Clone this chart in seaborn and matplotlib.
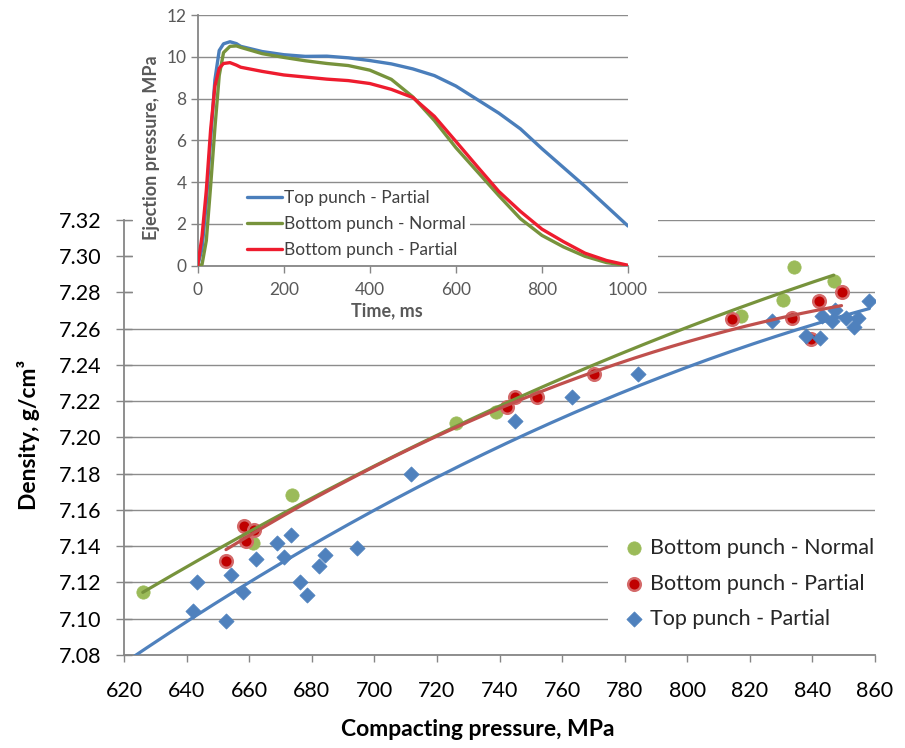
import numpy as np
import pandas as pd
import matplotlib
matplotlib.use("Agg")
import matplotlib.pyplot as plt
import seaborn as sns

# ---- Green density vs compacting pressure ----
bottom_normal_p = [626.0, 661.1, 673.6, 726.1, 738.9, 817.3, 830.6, 834.2, 846.8]
bottom_normal_d = [7.115, 7.142, 7.168, 7.208, 7.214, 7.267, 7.276, 7.294, 7.286]

bottom_partial_p = [652.6, 658.5, 658.9, 661.6, 742.4, 744.8, 752.0, 770.3,
                    814.3, 833.5, 839.6, 842.0, 849.3]
bottom_partial_d = [7.132, 7.151, 7.143, 7.149, 7.217, 7.222, 7.222, 7.235,
                    7.265, 7.266, 7.254, 7.275, 7.280]

top_partial_p = [642.2, 643.4, 652.6, 654.1, 658.1, 662.1, 669.0, 671.1, 673.4,
                 676.3, 678.4, 682.3, 684.3, 694.4, 711.8, 745.0, 763.3, 784.3,
                 827.1, 838.1, 842.3, 843.1, 846.3, 847.1, 850.7, 853.4, 854.6, 858.2]
top_partial_d = [7.104, 7.120, 7.099, 7.124, 7.115, 7.133, 7.142, 7.134, 7.146,
                 7.120, 7.113, 7.129, 7.135, 7.139, 7.180, 7.209, 7.222, 7.235,
                 7.264, 7.256, 7.255, 7.267, 7.264, 7.270, 7.266, 7.261, 7.266, 7.275]

series_names = ["Bottom punch - Normal", "Bottom punch - Partial", "Top punch - Partial"]

# ---- Ejection pressure curves ----
time_ms = [0, 10, 20, 30, 40, 50, 60, 75, 90, 100, 150, 200, 250, 300, 350, 400,
           450, 500, 550, 600, 650, 700, 750, 800, 850, 900, 950, 1000]
eject_top_partial = [0, 0.8, 3.0, 6.0, 8.9, 10.3, 10.62, 10.72, 10.63, 10.5, 10.25,
                     10.1, 10.02, 10.03, 9.95, 9.82, 9.66, 9.42, 9.1, 8.6, 7.95, 7.3,
                     6.55, 5.6, 4.7, 3.8, 2.85, 1.9]
eject_bottom_normal = [0, 0.05, 1.2, 3.8, 6.6, 9.1, 10.2, 10.5, 10.52, 10.45, 10.15,
                       9.97, 9.81, 9.68, 9.58, 9.36, 8.92, 8.08, 6.95, 5.65, 4.5, 3.35,
                       2.25, 1.45, 0.9, 0.45, 0.15, 0.0]
eject_bottom_partial = [0, 1.4, 3.6, 6.5, 8.6, 9.45, 9.68, 9.72, 9.6, 9.5, 9.3, 9.13,
                        9.03, 8.93, 8.86, 8.72, 8.44, 8.05, 7.15, 5.95, 4.74, 3.55,
                        2.6, 1.75, 1.15, 0.6, 0.25, 0.02]
eject_names = ["Top punch - Partial", "Bottom punch - Normal", "Bottom punch - Partial"]

sns.set_style("white")
plt.rcParams["font.family"] = ["Lato", "DejaVu Sans"]

W, H = 905, 748
fig = plt.figure(figsize=(W / 100, H / 100), dpi=100)


def fx(px):
    return px / W


def fy(py):
    return 1 - py / H


GRID = "#8c8c8c"
SPINE = "#868686"

# ---------------- main chart ----------------
ax = fig.add_axes([fx(124), fy(655), fx(875) - fx(124), fy(219.7) - fy(655)])
ax.set_zorder(1)

df_n = pd.DataFrame({"p": bottom_normal_p, "d": bottom_normal_d})
df_bp = pd.DataFrame({"p": bottom_partial_p, "d": bottom_partial_d})
df_tp = pd.DataFrame({"p": top_partial_p, "d": top_partial_d})

sns.scatterplot(data=df_n, x="p", y="d", ax=ax, marker="o", s=92,
                color="#9BBB59", edgecolor="#9BBB59", linewidth=0.5, zorder=3)
sns.scatterplot(data=df_bp, x="p", y="d", ax=ax, marker="o", s=82,
                color="#C00000", edgecolor="#D46A6A", linewidth=1.8, zorder=4)
sns.scatterplot(data=df_tp, x="p", y="d", ax=ax, marker="D", s=60,
                color="#4F81BD", edgecolor="#4F81BD", linewidth=0.5, zorder=5)
colls = ax.collections[:3]

# second-order polynomial trend lines
trend_specs = [
    (df_n, "#77933C", False),
    (df_bp, "#C0504D", False),
    (df_tp, "#4F81BD", True),
]
for df, col, back in trend_specs:
    coef = np.polyfit(df["p"], df["d"], 2)
    x0 = 620 if back else df["p"].min()
    xs = np.linspace(x0, df["p"].max(), 200)
    tdf = pd.DataFrame({"p": xs, "d": np.polyval(coef, xs)})
    sns.lineplot(data=tdf, x="p", y="d", ax=ax, color=col, linewidth=2.3,
                 zorder=6, sort=False)

ax.set_xlim(620, 860)
ax.set_ylim(7.08, 7.32)
ax.set_xticks(np.arange(620, 861, 20))
ax.set_yticks(np.arange(7.08, 7.321, 0.02))
ax.set_yticklabels([f"{v:.2f}" for v in np.arange(7.08, 7.321, 0.02)])
ax.grid(axis="y", color=GRID, linewidth=1.0)
ax.grid(axis="x", visible=False)
ax.set_axisbelow(True)
for s in ["top", "right"]:
    ax.spines[s].set_visible(False)
for s in ["left", "bottom"]:
    ax.spines[s].set_color(SPINE)
    ax.spines[s].set_linewidth(1.3)
ax.tick_params(axis="y", direction="inout", length=11, width=1.0, color=SPINE,
               labelsize=15.5, pad=11, labelcolor="black", left=True)
ax.tick_params(axis="x", direction="out", length=5, width=1.0, color=SPINE,
               labelsize=15.5, pad=14, labelcolor="black", bottom=True)
ax.set_xlabel("Compacting pressure, MPa", fontsize=16.5, fontweight="bold", color="black")
ax.set_ylabel("Density, g/cm³", fontsize=16.5, fontweight="bold", color="black")
ax.xaxis.set_label_coords(0.471, -0.147)
ax.yaxis.set_label_coords(-0.112, 0.505)

leg = ax.legend(colls, series_names, loc="center left",
                bbox_to_anchor=(fx(608), fy(583.5)), bbox_transform=fig.transFigure,
                fontsize=15.5, frameon=True, facecolor="white", edgecolor="none",
                framealpha=1, borderpad=0.8, borderaxespad=0, handlelength=0.8,
                handletextpad=0.35, labelspacing=0.72, markerscale=1.0)
leg.set_zorder(10)

# ---------------- white chart area holding the inset ----------------
panel = fig.add_axes([fx(133), fy(315), fx(658) - fx(133), 1 - fy(315)])
panel.set_zorder(2)
panel.set_facecolor("white")
panel.set_xticks([])
panel.set_yticks([])
for s in panel.spines.values():
    s.set_visible(False)

# ---------------- inset: ejection pressure ----------------
ins = fig.add_axes([fx(197.7), fy(265.7), fx(628) - fx(197.7), fy(15) - fy(265.7)])
ins.set_zorder(3)
ins.set_facecolor("white")

edf = pd.DataFrame({"t": time_ms, eject_names[0]: eject_top_partial,
                    eject_names[1]: eject_bottom_normal,
                    eject_names[2]: eject_bottom_partial})
for name, col in zip(eject_names, ["#4A7EBB", "#77933C", "#EE1C2E"]):
    sns.lineplot(data=edf, x="t", y=name, ax=ins, color=col, linewidth=2.4,
                 label=name, zorder=3)

ins.set_xlim(0, 1000)
ins.set_ylim(0, 12)
ins.set_xticks(np.arange(0, 1001, 200))
ins.set_yticks(np.arange(0, 13, 2))
ins.grid(axis="y", color=GRID, linewidth=1.0)
ins.grid(axis="x", visible=False)
ins.set_axisbelow(True)
for s in ["top", "right"]:
    ins.spines[s].set_visible(False)
for s in ["left", "bottom"]:
    ins.spines[s].set_color(SPINE)
    ins.spines[s].set_linewidth(1.3)
ins.tick_params(axis="both", direction="out", length=5, width=1.0, color=SPINE,
                labelsize=12.5, labelcolor="#595959", left=True, bottom=True)
ins.tick_params(axis="x", pad=7)
ins.tick_params(axis="y", pad=3)
ins.set_xlabel("Time, ms", fontsize=13, fontweight="bold", color="#595959")
ins.set_ylabel("Ejection pressure, MPa", fontsize=13, fontweight="bold", color="#595959")
ins.xaxis.set_label_coords(0.44, -0.145)
ins.yaxis.set_label_coords(-0.088, 0.47)

ileg = ins.legend(loc="center left", bbox_to_anchor=(fx(243), fy(224)),
                  bbox_transform=fig.transFigure, fontsize=12.5, frameon=True,
                  facecolor="white", edgecolor="none", framealpha=1, borderpad=0.25,
                  borderaxespad=0, handlelength=2.0, handletextpad=0.12,
                  labelspacing=0.6)
for t in ileg.get_texts():
    t.set_color("#404040")

fig.savefig("out.png", dpi=100)
